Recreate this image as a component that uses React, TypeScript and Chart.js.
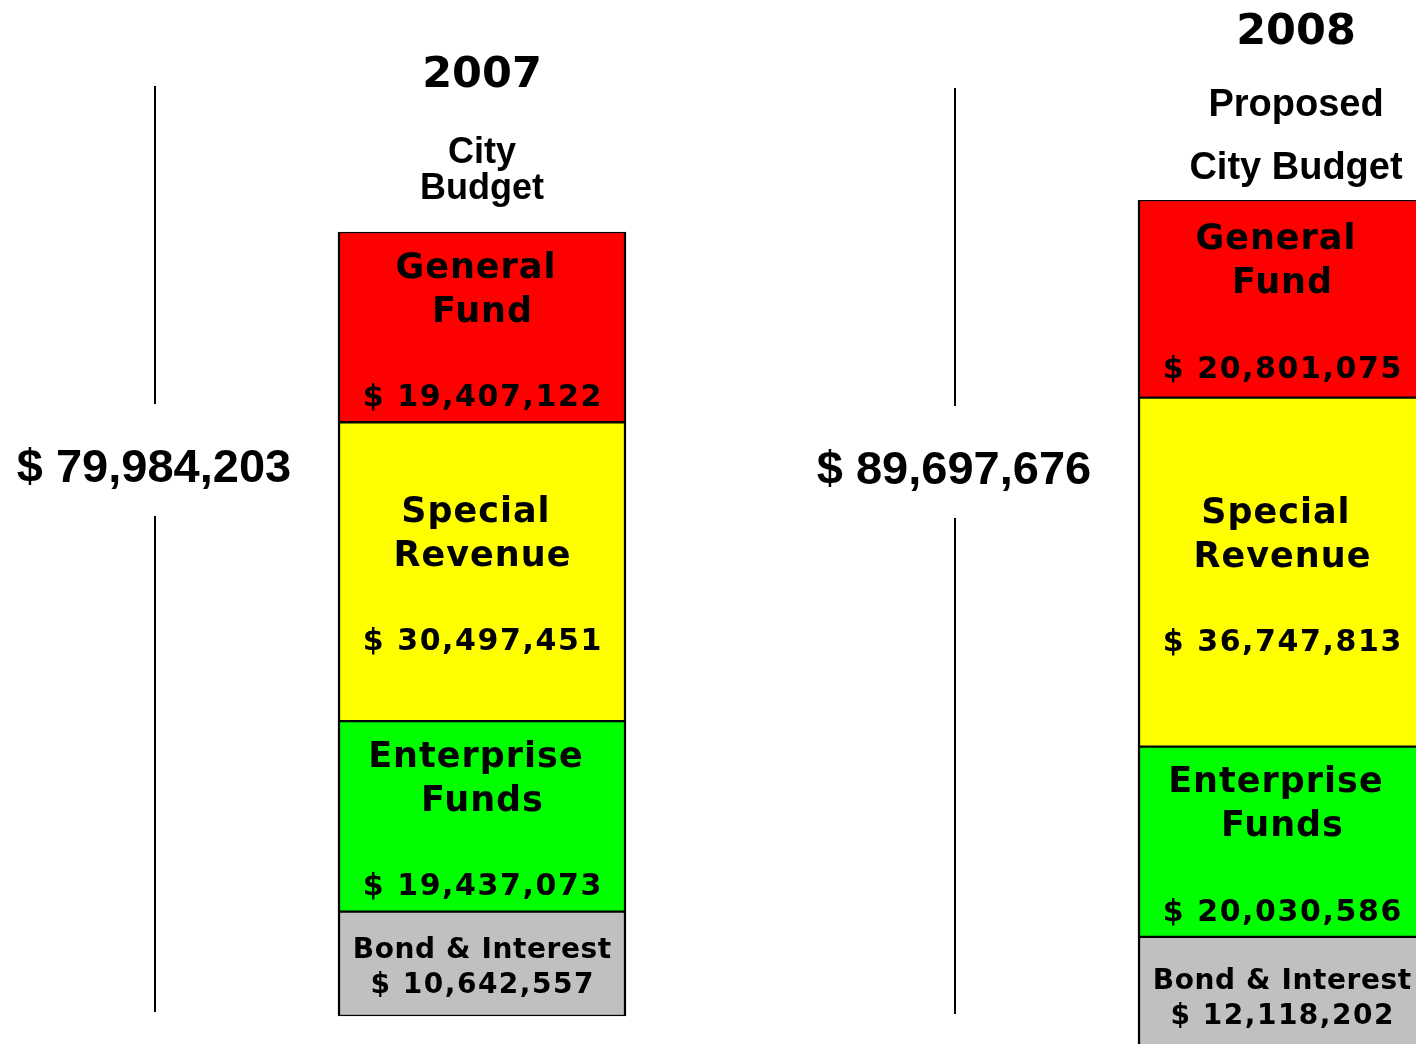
import React, { useEffect, useRef } from "react";
import { Chart, registerables } from "chart.js";

Chart.register(...registerables);

// ---- data ----
const years = ["2007", "2008"];
const yearSubtitles = [["City", "Budget"], ["Proposed", "City Budget"]];
const fundNames = [["General ", "Fund"], ["Special ", "Revenue"], ["Enterprise ", "Funds"], ["Bond & Interest"]];
const fundColors = ["#FF0000", "#FFFF00", "#00FF00", "#C0C0C0"];
const budget2007 = [19407122, 30497451, 19437073, 10642557];
const budget2008 = [20801075, 36747813, 20030586, 12118202];
const budgets = [budget2007, budget2008];

// ---- layout (pixels) ----
const CANVAS_W = 1682;
const CANVAS_H = 1060;
const PAD_LEFT = 82;
const AREA_TOP = 200;
const AREA_BOTTOM = 1052;
const BAR_W = 288;
const BAR07_TOP = 232;
const BAR07_BASE = 1016;
const titleLayout = [
  { dx: 0, offsets: [-160, -82, -46], subSize: 36 },
  { dx: 14, offsets: [-171, -98, -35], subSize: 38 },
];
const TOTAL_DX = -328;
const LINE_DX = -327;
const totalLayout = [
  { y: 465, lineTop: 86, lineBottom: 1012 },
  { y: 467, lineTop: 88, lineBottom: 1014 },
];

const fmt = (v: number) => "$ " + v.toLocaleString("en-US");
const sum = (a: number[]) => a.reduce((s, v) => s + v, 0);

const DV = "'DejaVu Sans', Verdana, sans-serif";
const LS = "'Liberation Sans', Arial, sans-serif";

function drawCentered(ctx: any, text: string, x: number, cy: number, size: number, family: string, spacing = 0) {
  ctx.font = `bold ${size}px ${family}`;
  ctx.letterSpacing = `${spacing}px`;
  ctx.fillText(text, x + spacing / 2, cy + size * 0.36);
  ctx.letterSpacing = "0px";
}

const labelPlugin = {
  id: "budgetLabels",
  afterDatasetsDraw(chart: any) {
    const ctx: CanvasRenderingContext2D = chart.ctx;
    ctx.save();
    ctx.fillStyle = "#000";
    ctx.textAlign = "center";
    ctx.textBaseline = "alphabetic";
    const barTops: { x: number; top: number }[] = [];
    chart.data.datasets.forEach((ds: any, di: number) => {
      const meta = chart.getDatasetMeta(di);
      meta.data.forEach((el: any, i: number) => {
        const v = ds.data[i];
        if (v == null) return;
        const { x, y, base } = el.getProps(["x", "y", "base"], true);
        const top = Math.min(y, base);
        const bottom = Math.max(y, base);
        const c = (top + bottom) / 2;
        const names = fundNames[ds.fundIndex];
        if (names.length === 2) {
          drawCentered(ctx, names[0], x, c + 3 - 65, 35, DV, 1);
          drawCentered(ctx, names[1], x, c + 3 - 21, 35, DV, 1);
          drawCentered(ctx, fmt(v), x, c + 3 + 65, 30, DV, 1.6);
        } else {
          drawCentered(ctx, names[0], x, c - 16, 28, DV, 0.6);
          drawCentered(ctx, fmt(v), x, c + 19, 28, DV, 1.5);
        }
        if (ds.fundIndex === 0) barTops[ds.yearIndex] = { x, top };
      });
    });
    barTops.forEach((b, yi) => {
      if (!b) return;
      const tl0 = titleLayout[yi];
      const tx = b.x + tl0.dx;
      drawCentered(ctx, years[yi], tx, b.top + tl0.offsets[0], 43, DV);
      drawCentered(ctx, yearSubtitles[yi][0], tx, b.top + tl0.offsets[1], tl0.subSize, LS);
      drawCentered(ctx, yearSubtitles[yi][1], tx, b.top + tl0.offsets[2], tl0.subSize, LS);
      const tl = totalLayout[yi];
      drawCentered(ctx, fmt(sum(budgets[yi])), b.x + TOTAL_DX, tl.y, 47, LS);
      ctx.strokeStyle = "#000";
      ctx.lineWidth = 2;
      const lx = b.x + LINE_DX;
      ctx.beginPath();
      ctx.moveTo(lx, tl.lineTop);
      ctx.lineTo(lx, tl.y - 61);
      ctx.moveTo(lx, tl.y + 51);
      ctx.lineTo(lx, tl.lineBottom);
      ctx.stroke();
    });
    ctx.restore();
  },
};

export default function App() {
  const ref = useRef<HTMLCanvasElement | null>(null);
  useEffect(() => {
    if (!ref.current) return;
    const total07 = sum(budget2007);
    const total08 = sum(budget2008);
    const ppu07 = (BAR07_BASE - BAR07_TOP) / total07;
    const datasets: any[] = [];
    budgets.forEach((vals, yi) => {
      for (let fi = vals.length - 1; fi >= 0; fi--) {
        datasets.push({
          label: `${years[yi]} ${fundNames[fi].join("").trim()}`,
          data: years.map((_, i) => (i === yi ? vals[fi] : null)),
          backgroundColor: fundColors[fi],
          borderColor: "#000",
          borderWidth: { top: 1.5, bottom: 1.5, left: 2.5, right: 2.5 },
          borderSkipped: false,
          yAxisID: yi === 0 ? "y" : "y2",
          stack: "budget",
          barThickness: BAR_W,
          fundIndex: fi,
          yearIndex: yi,
        });
      }
    });
    const chart = new Chart(ref.current, {
      type: "bar",
      data: { labels: years, datasets },
      options: {
        animation: false,
        responsive: false,
        maintainAspectRatio: false,
        layout: { padding: { left: PAD_LEFT, right: 0, top: AREA_TOP, bottom: CANVAS_H - AREA_BOTTOM } },
        plugins: { legend: { display: false }, tooltip: { enabled: false }, title: { display: false } },
        scales: {
          x: { stacked: true, display: false, grid: { display: false } },
          y: {
            stacked: true,
            display: false,
            min: -(AREA_BOTTOM - BAR07_BASE) / ppu07,
            max: total07 + (BAR07_TOP - AREA_TOP) / ppu07,
            grid: { display: false },
          },
          y2: {
            stacked: true,
            display: false,
            position: "right",
            min: 0,
            max: total08,
            grid: { display: false },
          },
        },
      } as any,
      plugins: [labelPlugin],
    });
    return () => chart.destroy();
  }, []);
  return (
    <div style={{ position: "fixed", left: 0, top: 0, width: 1416, height: 1044, overflow: "hidden", background: "#fff" }}>
      <canvas ref={ref} width={CANVAS_W} height={CANVAS_H} style={{ display: "block", width: CANVAS_W, height: CANVAS_H }} />
    </div>
  );
}
